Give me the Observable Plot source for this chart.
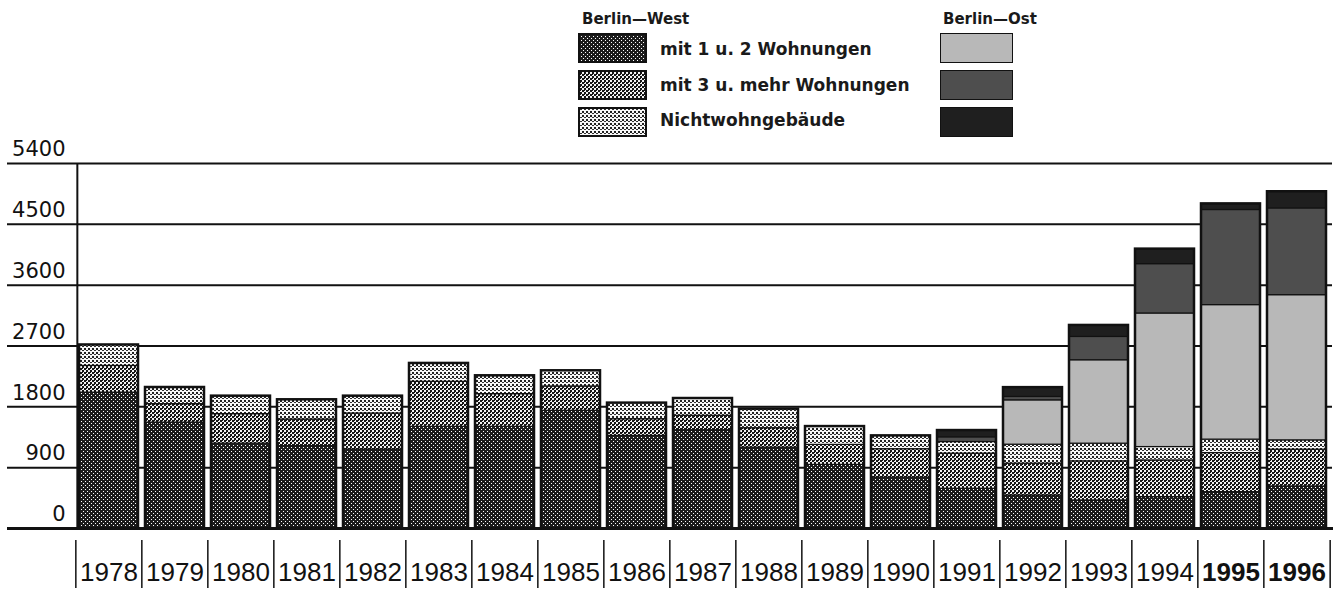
<!DOCTYPE html>
<html><head><meta charset="utf-8">
<script src="https://cdn.jsdelivr.net/npm/d3@7"></script>
<script src="https://cdn.jsdelivr.net/npm/@observablehq/plot@0.6"></script>
<style>
html,body{margin:0;padding:0;background:#fff;}
body{width:1338px;height:594px;overflow:hidden;font-family:"DejaVu Sans",sans-serif;color:#111;}
#legend{position:relative;height:136px;}
.lt{position:absolute;font-weight:bold;white-space:nowrap;color:#1a1a1a;}
.sw{position:absolute;display:block;}
#chart svg{display:block;}
</style></head><body>
<svg width="0" height="0" style="position:absolute;left:0;top:0">
<defs>
<pattern id="pW1" width="4" height="4" patternUnits="userSpaceOnUse"><rect width="4" height="4" fill="#1c1c1c"/><rect x="1" y="1" width="1" height="1" fill="#fff"/><rect x="3" y="3" width="1" height="1" fill="#fff"/></pattern>
<pattern id="pW2" width="4" height="4" patternUnits="userSpaceOnUse"><rect width="4" height="4" fill="#f2f2f2"/><rect x="0" y="0" width="2" height="2" fill="#151515"/><rect x="2" y="2" width="2" height="2" fill="#151515"/><rect x="2" y="0" width="1" height="1" fill="#151515"/></pattern>
<pattern id="pW3" width="4" height="4" patternUnits="userSpaceOnUse"><rect width="4" height="4" fill="#f8f8f8"/><rect x="0" y="0" width="2" height="2" fill="#222"/><rect x="2" y="2" width="2" height="1" fill="#333"/></pattern>
</defs>
</svg>
<div id="legend"></div>
<div id="chart"></div>
<script>
// ---- data ----
const years = [1978,1979,1980,1981,1982,1983,1984,1985,1986,1987,1988,1989,1990,1991,1992,1993,1994,1995,1996];
const west12    = [2010,1567,1256,1218,1168,1504,1504,1741,1370,1454,1197, 941, 753, 588, 489, 415, 464, 538, 622];
const west3     = [ 395, 273, 436, 394, 533, 666, 484, 360, 247, 213, 287, 296, 420, 519, 470, 578, 543, 578, 544];
const westNicht = [ 310, 246, 266, 292, 257, 272, 271, 232, 238, 256, 282, 271, 197, 172, 281, 262, 198, 199, 138];
const ost12     = [   0,   0,   0,   0,   0,   0,   0,   0,   0,   0,   0,   0,   0,   0, 656,1234,1976,1990,2148];
const ost3      = [   0,   0,   0,   0,   0,   0,   0,   0,   0,   0,   0,   0,   0,  70,  50, 345, 730,1407,1284];
const ostNicht  = [   0,   0,   0,   0,   0,   0,   0,   0,   0,   0,   0,   0,   0, 100, 138, 170, 222,  90, 246];
const seriesKeys = ["W12","W3","WN","O12","O3","ON"];
const westLabels = ["mit 1 u. 2 Wohnungen","mit 3 u. mehr Wohnungen","Nichtwohngebäude"];
const groupTitles = ["Berlin—West","Berlin—Ost"];
const yTicks = [0,900,1800,2700,3600,4500,5400];
const boldYears = [1995,1996];

// ---- styles ----
const fills = ["url(#pW1)","url(#pW2)","url(#pW3)","#b8b8b8","#4e4e4e","#1f1f1f"];

// ---- table ----
const seriesValues = [west12, west3, westNicht, ost12, ost3, ostNicht];
const rows = [];
years.forEach((yr,i)=>seriesKeys.forEach((k,j)=>{
  const v = seriesValues[j][i];
  if (v > 0) rows.push({year: yr, series: k, value: v});
}));

// ---- legend ----
const legend = document.getElementById("legend");
function addText(txt, left, top, size){
  const d = document.createElement("div");
  d.className = "lt"; d.textContent = txt;
  d.style.fontSize = size+"px"; d.style.lineHeight = size+"px";
  d.style.left = left+"px"; d.style.top = top+"px";
  legend.appendChild(d);
}
function addSwatch(fill, left, top, w, h, sw){
  const ns = "http://www.w3.org/2000/svg";
  const s = document.createElementNS(ns,"svg");
  s.setAttribute("width", w); s.setAttribute("height", h);
  s.setAttribute("class","sw");
  s.style.left = left+"px"; s.style.top = top+"px";
  const r = document.createElementNS(ns,"rect");
  r.setAttribute("x", sw/2); r.setAttribute("y", sw/2);
  r.setAttribute("width", w-sw); r.setAttribute("height", h-sw);
  r.setAttribute("fill", fill); r.setAttribute("stroke","#111"); r.setAttribute("stroke-width", sw);
  s.appendChild(r);
  legend.appendChild(s);
}
const rowTops = [33,70,107];
const textTops = [41,77,112];
addText(groupTitles[0], 582, 12, 15);
addText(groupTitles[1], 943, 12, 15);
westLabels.forEach((t,i)=>{
  addSwatch(fills[i], 578, rowTops[i], 69, 30, 2);
  addText(t, 660, textTops[i], 17);
});
[3,4,5].forEach((j,i)=> addSwatch(fills[j], 940, rowTops[i], 73, 30, 1));

// ---- chart ----
const W = 1338, H = 458, mL = 73, mR = 5, mT = 27, mB = 66;
const step = (W - mL - mR) / years.length;
const chart = Plot.plot({
  width: W, height: H,
  marginLeft: mL, marginRight: mR, marginTop: mT, marginBottom: mB,
  style: {background: "transparent", overflow: "visible"},
  x: {type: "band", domain: years, paddingInner: 0.1, paddingOuter: 0.05, axis: null},
  y: {domain: [0, 5400], axis: null},
  color: {type: "ordinal", domain: seriesKeys, range: fills},
  marks: [
    Plot.ruleY(yTicks.filter(d => d > 0), {y: d => d, stroke: "#111", strokeWidth: 2, insetLeft: -66, insetRight: 1}),
    Plot.barY(rows, {x: "year", y: "value", fill: "series", order: seriesKeys, stroke: "#111", strokeWidth: 1.2}),
    Plot.barY(rows, Plot.groupX({y: "sum"}, {x: "year", y: "value", fill: "none", stroke: "#111", strokeWidth: 2.5})),
    Plot.ruleY([0], {y: d => d, stroke: "#111", strokeWidth: 3, insetLeft: -66, insetRight: 0}),
    Plot.ruleX([years[0]], {x: d => d, dx: -step/2 + 1.5, stroke: "#111", strokeWidth: 2}),
    Plot.ruleX(years, {x: d => d, dx: -step/2, insetTop: 377, insetBottom: -60, stroke: "#111", strokeWidth: 1.5}),
    Plot.ruleX([years[years.length-1]], {x: d => d, dx: step/2, insetTop: 377, insetBottom: -60, stroke: "#111", strokeWidth: 1.5}),
    Plot.axisY(yTicks, {anchor: "left", tickSize: 0, tickPadding: 8, dy: -14, fontSize: 21, fontFamily: "DejaVu Sans", tickFormat: d => String(d), label: null, fill: "#111"}),
    Plot.text(years.filter(d => !boldYears.includes(d)), {x: d => d, text: d => String(d), frameAnchor: "bottom", dy: 52, fontSize: 26, fontFamily: "Liberation Sans", fill: "#111"}),
    Plot.text(boldYears, {x: d => d, text: d => String(d), frameAnchor: "bottom", dy: 52, fontSize: 26, fontWeight: "bold", fontFamily: "Liberation Sans", fill: "#111"})
  ]
});
document.getElementById("chart").appendChild(chart);
</script>
</body></html>
